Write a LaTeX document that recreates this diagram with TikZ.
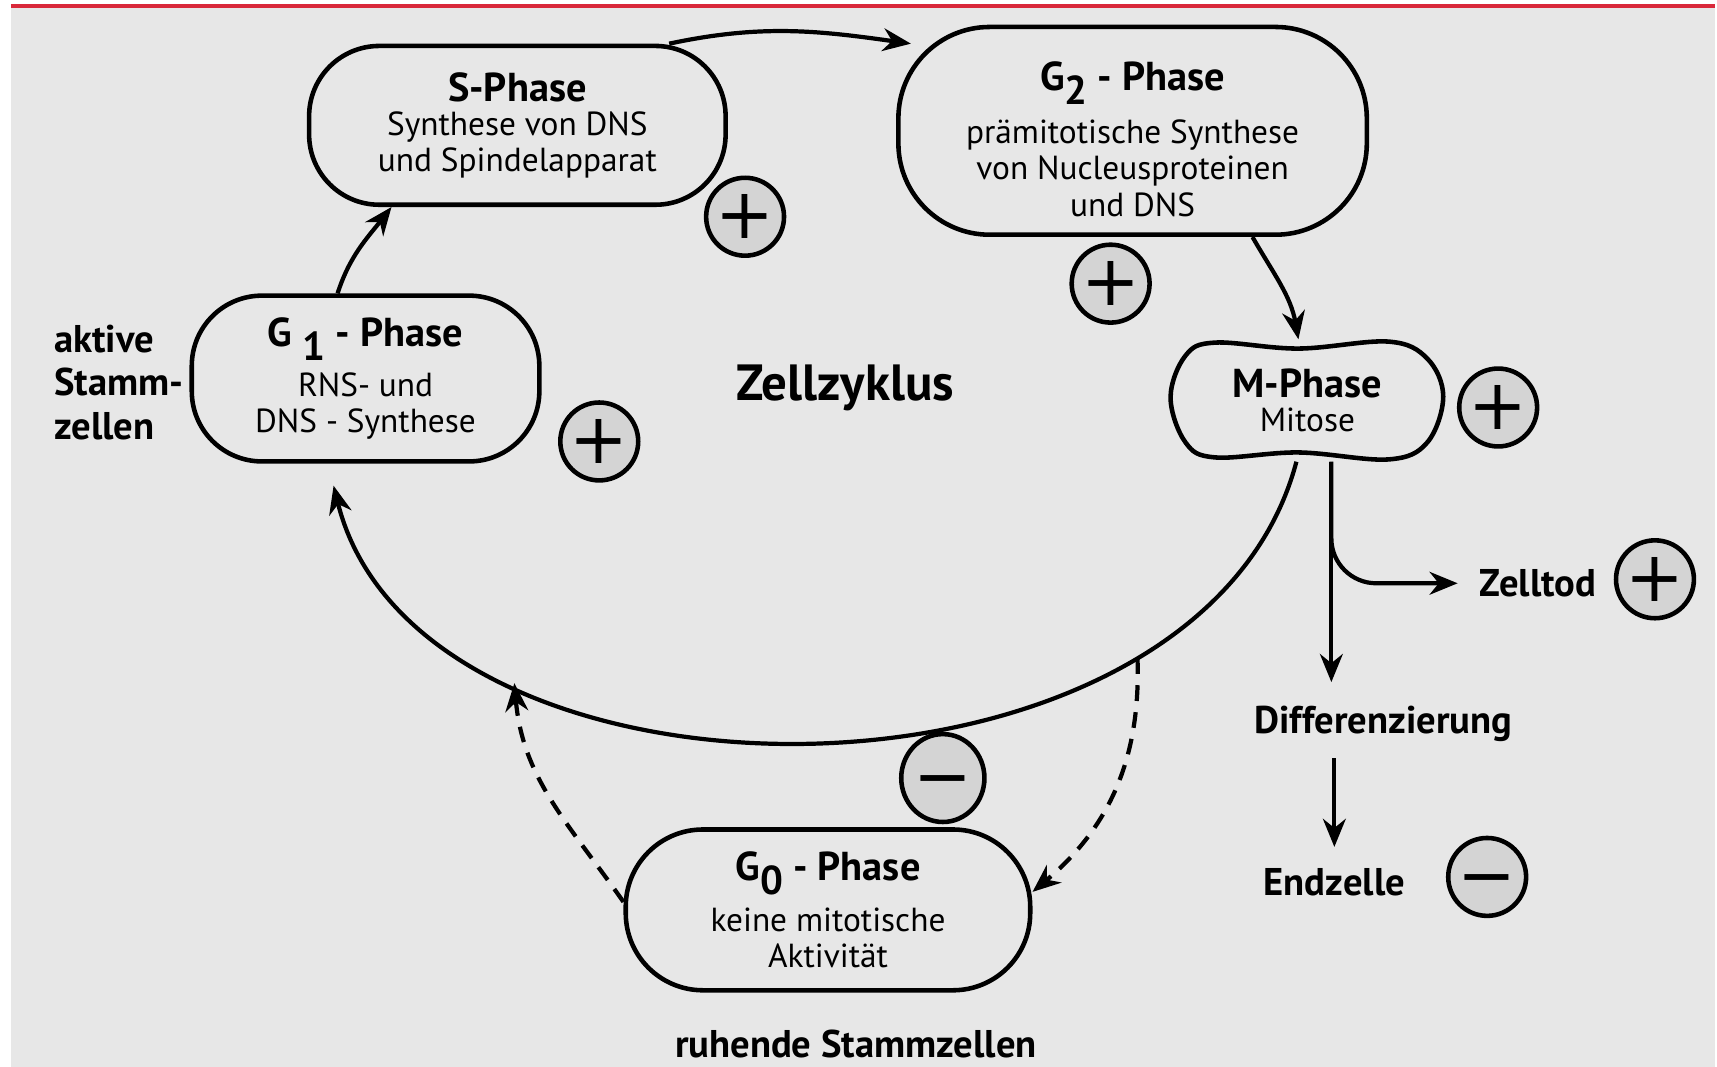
\documentclass[tikz,border=0pt]{standalone}
\usepackage{fontspec}
\setmainfont{PT Sans}
\newfontfamily\signfont{DejaVu Sans}
\usetikzlibrary{positioning,arrows.meta,shapes.geometric,calc}

\definecolor{bggrey}{HTML}{E7E7E7}
\definecolor{signgrey}{HTML}{D4D4D4}
\definecolor{topred}{HTML}{D9283A}

\tikzstyle{phase}=[rectangle, rounded corners=20pt, draw=black, line width=1.3pt, fill=bggrey,
align=center, inner sep=0pt, font=\fontsize{9.5}{10.3}\selectfont]
\tikzstyle{sign}=[circle, draw=black, line width=1.3pt, fill=signgrey, minimum size=7.8mm,
inner sep=0pt, text height=12.6pt, text depth=0pt, font=\signfont\fontsize{20}{20}\selectfont]
\tikzstyle{lbl}=[font=\bfseries\fontsize{11}{12.5}\selectfont, inner sep=1pt]
\tikzstyle{arr}=[-{Stealth[length=8pt,width=6.5pt]}, line width=1.2pt]
\tikzstyle{darr}=[arr, dash pattern=on 4.5pt off 3.2pt]

\newcommand\ttl[1]{{\bfseries\fontsize{11.5}{14}\selectfont #1}}
\newcommand\sub[1]{\raisebox{-0.7ex}{#1}}

\begin{document}
\begin{tikzpicture}

% frame
\fill[white] (0,0) rectangle (17.17,-10.68);
\fill[bggrey] (0.11,-0.07) rectangle (17.17,-10.68);
\draw[topred, line width=1.2pt] (0.11,-0.06) -- (17.17,-0.06);
\useasboundingbox (0,0) rectangle (17.17,-10.68);

% phases
\node (s) [phase, minimum width=4.17cm, minimum height=1.59cm] at (5.18,-1.255)
    {\ttl{S-Phase}\\[-0.5pt] Synthese von DNS\\ und Spindelapparat};
\node (g2) [phase, rounded corners=26pt, minimum width=4.69cm, minimum height=2.08cm] at (11.34,-1.31)
    {\rule{0pt}{13pt}\ttl{G\sub{2} - Phase}\\[3.3pt] prämitotische Synthese\\ von Nucleusproteinen\\ und DNS};
\node (g1) [phase, minimum width=3.48cm, minimum height=1.66cm] at (3.66,-3.79)
    {\ttl{G \sub{1} - Phase}\\[2.5pt] RNS- und\\ DNS - Synthese};
\node (g0) [phase, rounded corners=22pt, minimum width=4.05cm, minimum height=1.61cm] at (8.29,-9.11)
    {\ttl{G\sub{0} - Phase}\\[2.5pt] keine mitotische\\ Aktivität};
\node (m) [phase, draw=none, fill=none, minimum width=2.74cm, minimum height=1.18cm] at (13.09,-4.01)
    {\ttl{M-Phase}\\[-0.5pt] Mitose};
\draw[line width=1.3pt, shift={(m.center)}] plot[smooth cycle, tension=0.6] coordinates
    {(-1.37,0.03) (-1.22,0.45) (-0.92,0.58) (-0.09,0.52) (0.81,0.59) (1.2,0.42)
     (1.36,0.04) (1.2,-0.42) (0.81,-0.59) (-0.09,-0.52) (-0.92,-0.57) (-1.22,-0.42)};

% plus and minus
\node (splus) [sign] at (7.46,-2.17) {+};
\node (g2plus) [sign] at (11.12,-2.84) {+};
\node (g1plus) [sign] at (6.00,-4.42) {+};
\node (mplus) [sign] at (15.00,-4.08) {+};
\node (ztplus) [sign] at (16.57,-5.80) {+};
\node (g0minus) [sign, ellipse, minimum width=0.8cm, minimum height=0.88cm] at (9.44,-7.79) {−};
\node (ezminus) [sign] at (14.89,-8.78) {−};

% labels
\node (aktiv) [lbl, align=left, anchor=west] at (0.50,-3.83) {aktive\\ Stamm-\\ zellen};
\node (zz) [font=\bfseries\fontsize{14.5}{16}\selectfont] at (8.46,-3.88) {Zellzyklus};
\node (zt) [lbl] at (15.40,-5.84) {Zelltod};
\node (diff) [lbl] at (13.85,-7.25) {Differenzierung};
\node (ez) [lbl] at (13.36,-8.83) {Endzelle};
\node (rs) [lbl] at (8.57,-10.45) {ruhende Stammzellen};

% cycle
\draw[arr] ([xshift=1.52cm]s.north) to[out=12,in=172] ([xshift=-2.22cm,yshift=-0.19cm]g2.north);
\draw[arr] ([xshift=1.20cm]g2.south) to[out=-60,in=100] ([xshift=-0.09cm]m.north);
\draw[arr] ([xshift=-0.28cm]g1.north) to[out=72,in=-128] ([xshift=-1.26cm]s.south);
\draw[arr] ([xshift=-0.11cm]m.south) .. controls (12.0,-8.32) and (4.2,-8.32) ..
    coordinate[pos=0.23] (dstart) ([xshift=-0.32cm,yshift=-0.22cm]g1.south);

% resting cells
\coordinate (dend) at (5.15,-6.84);
\draw[darr] (dstart) to[out=-88,in=40] ([yshift=0.18cm]g0.east);
\draw[darr] ([yshift=0.08cm]g0.west) to[out=125,in=-85] (dend);

% leaving the cycle
\draw[arr, rounded corners=0.45cm] ([xshift=0.24cm]m.south) |- ([xshift=-0.18cm]zt.west);
\draw[arr, shorten >=0.2cm] ([xshift=0.24cm]m.south) -- ([xshift=0.24cm]m.south |- diff.north);
\draw[arr, shorten <=0.12cm, shorten >=0.17cm] (ez.north |- diff.south) -- (ez.north);

\end{tikzpicture}
\end{document}
